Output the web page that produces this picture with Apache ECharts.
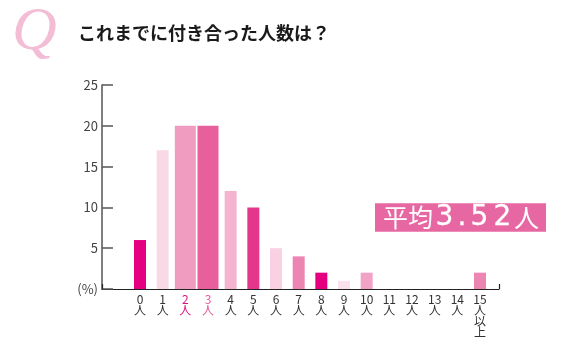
<!DOCTYPE html>
<html lang="ja">
<head>
<meta charset="UTF-8" />
<title>これまでに付き合った人数は？</title>
<script src="https://cdn.jsdelivr.net/npm/echarts@6.0.0/dist/echarts.min.js"></script>
<style>
  body { margin: 0; background: #fff; }
  #main { width: 574px; height: 342px; }
</style>
</head>
<body>
<div id="main"></div>
<script>
  // 人数カテゴリと割合(%)
  const categories = ['0人', '1人', '2人', '3人', '4人', '5人', '6人', '7人', '8人', '9人', '10人', '11人', '12人', '13人', '14人', '15人以上'];
  const values = [6, 17, 20, 20, 12, 10, 5, 4, 2, 1, 2, 0, 0, 0, 0, 2];
  const barColors = ['#e4007f', '#f9d9e6', '#f09cc0', '#e8609b', '#f4b4cf', '#e4368a', '#f9d1e2', '#ec85b1',
                     '#e4007f', '#fbe1eb', '#f1a3c5', '#f1a3c5', '#f1a3c5', '#f1a3c5', '#f1a3c5', '#ec85b1'];
  const wideIdx = [2, 3];   // 太いバー
  const labelColors = { 2: '#d8157f', 3: '#e4579a' };
  const yTicks = [0, 5, 10, 15, 20, 25];
  const average = '3.52';

  const font = '"Noto Sans CJK JP", "Noto Sans", sans-serif';

  const narrowData = values.map((v, i) => wideIdx.includes(i) ? '-' : { value: v, itemStyle: { color: barColors[i] } });
  const wideData = values.map((v, i) => wideIdx.includes(i) ? { value: v, itemStyle: { color: barColors[i] } } : '-');

  // 平均ラベル：数字ごとに幅をそろえる
  const avgText = '{a|平均}' + average.split('').map(c => c === '.' ? '{d|.}' : '{n|' + c + '}').join('') + '{a|人}';
  const digitStyle = { fontFamily: '"DejaVu Sans", sans-serif', fontWeight: 'normal', fontSize: 28, color: '#fff',
                       lineHeight: 29, align: 'center', textBorderColor: '#fff', textBorderWidth: 0.3 };

  const chart = echarts.init(document.getElementById('main'));
  chart.setOption({
    animation: false,
    title: [
      { text: 'Q', left: 7, top: -3,
        textStyle: { fontFamily: '"Liberation Serif", serif', fontStyle: 'italic', fontWeight: 'normal', fontSize: 62, color: '#f4bdd6' } },
      { text: 'これまでに付き合った人数は？', left: 73, top: 19,
        textStyle: { fontFamily: font, fontWeight: 'bold', fontSize: 18, color: '#1a1a1a' } },
      { text: avgText, left: 375, top: 203,
        backgroundColor: '#e767a3', padding: [0, 7, 0, 8],
        textStyle: {
          rich: {
            a: { fontFamily: font, fontWeight: 'normal', fontSize: 25, color: '#fff', lineHeight: 29 },
            n: Object.assign({ width: 23 }, digitStyle),
            d: Object.assign({ width: 12 }, digitStyle)
          }
        } }
    ],
    grid: [
      { left: 102, right: 75, top: 85, bottom: 53 },
      { left: 128.67, right: 82.67, top: 85, bottom: 53 }
    ],
    xAxis: [
      { type: 'value', gridIndex: 0, min: 0, max: 1, interval: 1,
        axisLine: { show: true, lineStyle: { color: '#222', width: 1.2 } },
        axisTick: { show: true, inside: true, length: 5, lineStyle: { color: '#222', width: 1.2 } },
        axisLabel: { show: false }, splitLine: { show: false } },
      { type: 'category', gridIndex: 1,
        data: categories.map((c, i) => labelColors[i] ? { value: c, textStyle: { color: labelColors[i] } } : c),
        axisLine: { show: false }, axisTick: { show: false },
        axisLabel: {
          interval: 0, margin: 5, fontFamily: font, fontSize: 12, lineHeight: 11, color: '#333',
          formatter: v => { const m = v.match(/^(\d+)(.*)$/); return [m[1]].concat(m[2].split('')).join('\n'); }
        } },
      { type: 'category', gridIndex: 1, data: categories, show: false }
    ],
    yAxis: [
      { type: 'value', gridIndex: 0, min: yTicks[0], max: yTicks[yTicks.length - 1], interval: 5,
        axisLine: { show: true, lineStyle: { color: '#555', width: 1.5 } },
        axisTick: { show: true, inside: true, length: 11, lineStyle: { color: '#555', width: 1.5 } },
        axisLabel: { margin: 4, fontFamily: font, fontSize: 13, color: '#444', formatter: v => v === 0 ? '(%)' : v },
        splitLine: { show: false } },
      { type: 'value', gridIndex: 1, min: 0, max: 25, show: false }
    ],
    series: [
      { type: 'bar', xAxisIndex: 1, yAxisIndex: 1, barWidth: 12, data: narrowData },
      { type: 'bar', xAxisIndex: 2, yAxisIndex: 1, barWidth: 21, data: wideData }
    ]
  });
</script>
</body>
</html>
